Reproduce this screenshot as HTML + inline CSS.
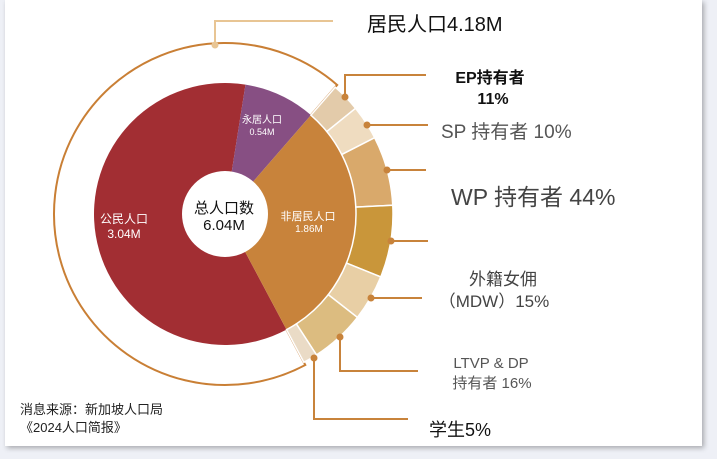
<!DOCTYPE html>
<html><head><meta charset="utf-8"><style>
html,body{margin:0;padding:0;background:#eef0f6;}
body{width:717px;height:459px;overflow:hidden;position:relative;font-family:"Liberation Sans","Noto Sans CJK SC",sans-serif;}
.card{position:absolute;left:5px;top:0;width:697px;height:446px;background:#fff;box-shadow:2px 2px 5px rgba(0,0,0,0.3);}
svg{position:absolute;left:0;top:0;}
</style></head><body>
<div class="card"></div>
<svg id="s" width="717" height="459" xmlns="http://www.w3.org/2000/svg" font-family="Liberation Sans, Noto Sans CJK SC, sans-serif"></svg>
<script>
const cx=225,cy=214,R=131,RO=168,RL=171,RH=43;
function pt(r,a){a=a*Math.PI/180;return [cx+r*Math.sin(a),cy-r*Math.cos(a)];}
function sector(r0,r1,a0,a1){const l=a1-a0>180?1:0;const p1=pt(r1,a0),p2=pt(r1,a1),p3=pt(r0,a1),p4=pt(r0,a0);
return `M${p1} A${r1},${r1} 0 ${l} 1 ${p2} L${p3} A${r0},${r0} 0 ${l} 0 ${p4}Z`;}
let h='';
{const a0=152,a1=401;const s=pt(RL,a0),e=pt(RL,a1),si=pt(R,a0),ei=pt(R,a1);
h+=`<path d="M${si} L${s} A${RL},${RL} 0 1 1 ${e} L${ei}" fill="none" stroke="#c97f35" stroke-width="2"/>`;}
h+=`<path d="${sector(0,R,152,369)}" fill="#a22e33"/>`;
h+=`<path d="${sector(0,R,9,41)}" fill="#874f83"/>`;
h+=`<path d="${sector(0,R,41,152)}" fill="#c8833b"/>`;
const segs=[[41,51,'#e3cbaa'],[51,63,'#efdcc0'],[63,87,'#d9a96b'],[87,112,'#c9963a'],[112,128,'#e8cfa5'],[128,147,'#dcbc80'],[147,152,'#eadbc6']];
segs.forEach(s=>h+=`<path d="${sector(R,RO,s[0],s[1])}" fill="${s[2]}" stroke="#fff" stroke-width="1.5"/>`);
h+=`<circle cx="${cx}" cy="${cy}" r="${RH}" fill="#fff"/>`;
const L='#c8833b';
function ln(pts,c){return `<polyline points="${pts}" fill="none" stroke="${c}" stroke-width="2"/>`;}
function dot(x,y,c){return `<circle cx="${x}" cy="${y}" r="3.5" fill="${c}"/>`;}
h+=ln('215,45 215,21 333,21','#e8c594')+dot(215,45,'#e8c594');
h+=ln('345,97 345,75 426,75',L)+dot(345,97,L);
h+=ln('367,125 428,125',L)+dot(367,125,L);
h+=ln('387,170 426,170',L)+dot(387,170,L);
h+=ln('391,241 428,241',L)+dot(391,241,L);
h+=ln('371,298 422,298',L)+dot(371,298,L);
h+=ln('340,337 340,371 418,371',L)+dot(340,337,L);
h+=ln('314,358 314,419 408,419',L)+dot(314,358,L);
function t(x,y,s,txt,o){o=o||{};return `<text x="${x}" y="${y}" font-size="${s}" fill="${o.c||'#222'}" text-anchor="${o.a||'start'}" font-weight="${o.w||'normal'}">${txt}</text>`;}
h+=t(367,31,20,'居民人口4.18M',{c:'#111'});
h+=t(490,83,16,'EP持有者',{a:'middle',c:'#111',w:'bold'});
h+=t(493,104,16,'11%',{a:'middle',c:'#111',w:'bold'});
h+=t(441,138,19,'SP 持有者 10%',{c:'#555'});
h+=t(451,205,23,'WP 持有者 44%',{c:'#444'});
h+=t(503,285,17,'外籍女佣',{a:'middle',c:'#444'});
h+=t(494,307,17,'（MDW）15%',{a:'middle',c:'#444'});
h+=t(491,368,15,'LTVP &amp; DP',{a:'middle',c:'#555'});
h+=t(492,388,15,'持有者 16%',{a:'middle',c:'#555'});
h+=t(429,436,18,'学生5%',{c:'#111'});
h+=t(20,414,13,'消息来源：新加坡人口局');
h+=t(20,432,13,'《2024人口简报》');
h+=t(224,213,15,'总人口数',{a:'middle',c:'#111'});
h+=t(224,230,15,'6.04M',{a:'middle',c:'#111'});
h+=t(124,223,12,'公民人口',{a:'middle',c:'#fff'});
h+=t(124,238,12,'3.04M',{a:'middle',c:'#fff'});
h+=t(262,123,10,'永居人口',{a:'middle',c:'#fff'});
h+=t(262,135,9,'0.54M',{a:'middle',c:'#fff'});
h+=t(308,220,11,'非居民人口',{a:'middle',c:'#fff'});
h+=t(309,232,10,'1.86M',{a:'middle',c:'#fff'});
document.getElementById('s').innerHTML=h;
</script>
</body></html>
